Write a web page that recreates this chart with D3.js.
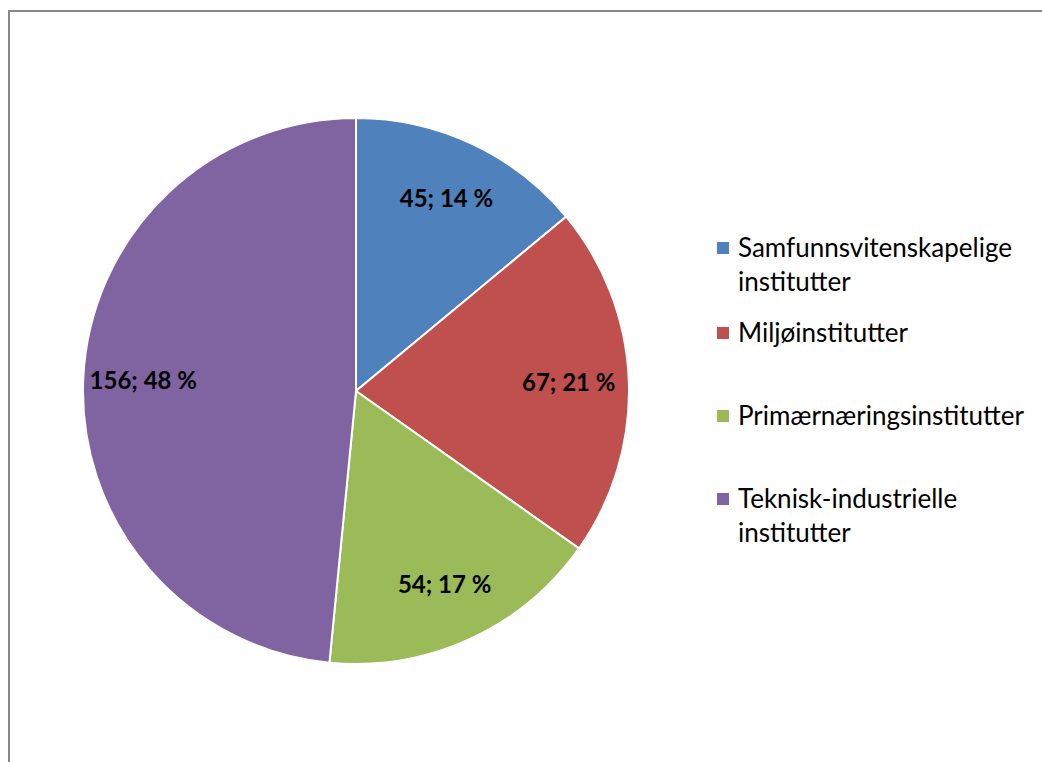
<!DOCTYPE html>
<html>
<head>
<meta charset="utf-8">
<script src="https://cdn.jsdelivr.net/npm/d3@7"></script>
<style>
  body { margin: 0; background: #fff; }
  svg { display: block; }
</style>
</head>
<body>
<div id="chart"></div>
<script>
var categories = ["Samfunnsvitenskapelige institutter", "Miljøinstitutter", "Primærnæringsinstitutter", "Teknisk-industrielle institutter"];
var legendLines = [["Samfunnsvitenskapelige", "institutter"], ["Miljøinstitutter"], ["Primærnæringsinstitutter"], ["Teknisk-industrielle", "institutter"]];
var values = [45, 67, 54, 156];
var percents = ["14 %", "21 %", "17 %", "48 %"];
var colors = ["#4F81BD", "#C0504D", "#9BBB59", "#8064A2"];

var width = 1042, height = 762;

var svg = d3.select("#chart")
  .append("svg")
    .attr("width", width)
    .attr("height", height);

// chart frame (runs off the right and bottom edges)
svg.append("rect")
  .attr("x", 9)
  .attr("y", 11)
  .attr("width", 1100)
  .attr("height", 800)
  .attr("fill", "none")
  .attr("stroke", "#878787")
  .attr("stroke-width", 2);

var cx = 356, cy = 391, radius = 273;

var pie = d3.pie().sort(null).value(function(d){ return d; });
var arcs = pie(values);

var arc = d3.arc().innerRadius(0).outerRadius(radius);
var labelArc = d3.arc().innerRadius(radius * 0.78).outerRadius(radius * 0.78);

var g = svg.append("g")
  .attr("transform", "translate(" + cx + "," + cy + ")");

g.selectAll("path")
  .data(arcs)
  .enter().append("path")
    .attr("d", arc)
    .attr("fill", function(d, i){ return colors[i]; })
    .attr("stroke", "#fff")
    .attr("stroke-width", 2);

g.selectAll("text.lbl")
  .data(arcs)
  .enter().append("text")
    .attr("class", "lbl")
    .attr("transform", function(d){ return "translate(" + labelArc.centroid(d) + ")"; })
    .attr("text-anchor", "middle")
    .attr("dy", "0.35em")
    .style("font-family", "Lato, 'Open Sans', sans-serif")
    .style("font-weight", "bold")
    .style("font-size", "24px")
    .attr("fill", "#000")
    .text(function(d, i){ return values[i] + "; " + percents[i]; });

// legend
var legendY = [248, 333, 416, 499];
var legend = svg.append("g");

legendLines.forEach(function(lines, i){
  legend.append("rect")
    .attr("x", 717)
    .attr("y", legendY[i] - 6)
    .attr("width", 12)
    .attr("height", 12)
    .attr("fill", colors[i]);
  var t = legend.append("text")
    .attr("x", 738)
    .attr("y", legendY[i])
    .style("font-family", "Lato, 'Open Sans', sans-serif")
    .style("font-size", "26px")
    .attr("fill", "#000");
  lines.forEach(function(line, j){
    t.append("tspan")
      .attr("x", 738)
      .attr("dy", j === 0 ? "0.35em" : "34px")
      .text(line);
  });
});
</script>
</body>
</html>
